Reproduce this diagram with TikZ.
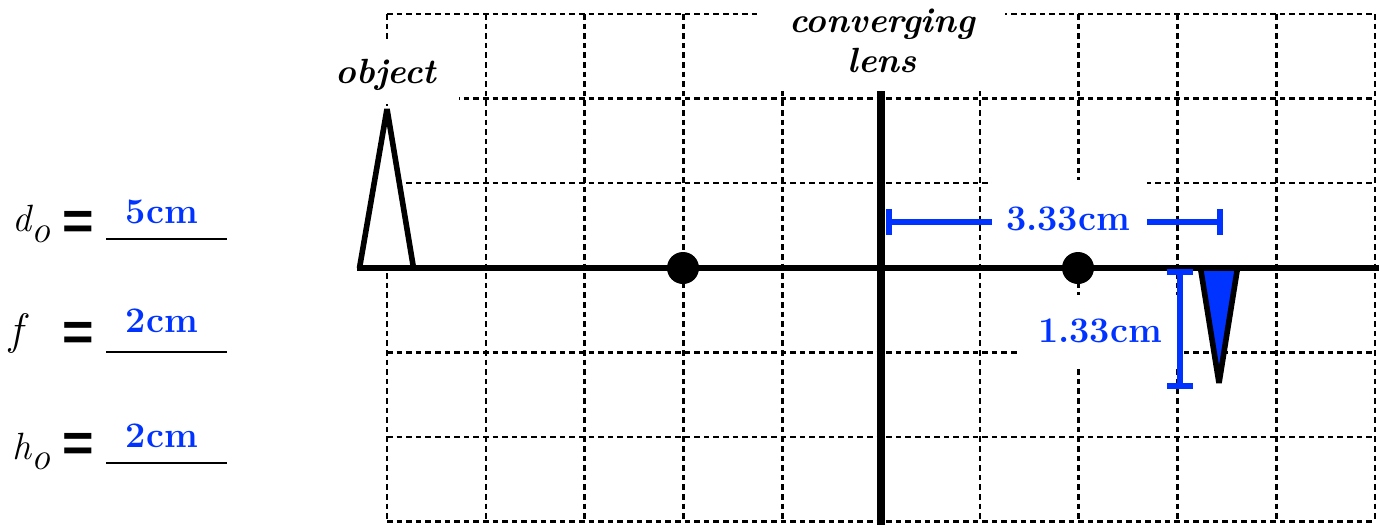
\documentclass[tikz,border=0pt]{standalone}
\usepackage{fontspec}
\newfontfamily\eqfont{Liberation Sans}
\definecolor{dimblue}{RGB}{0,51,255}
\begin{document}
\begin{tikzpicture}[x=0.5pt,y=-0.5pt,
  gridline/.style={line width=1.3pt,dash pattern=on 2.8pt off 2pt},
  mask/.style={fill=white},
  axisline/.style={line width=2.8pt},
  lensline/.style={line width=3.8pt},
  arrowtri/.style={line width=2.8pt,line join=bevel},
  dimline/.style={dimblue,line width=2.8pt},
  lbl/.style={font=\fontsize{17.5}{20}\selectfont\bfseries\itshape,inner sep=0pt,anchor=base},
  val/.style={text=dimblue,font=\fontsize{18}{20}\selectfont\bfseries,inner sep=0pt,anchor=base},
  givenvar/.style={font=\fontsize{19}{21}\selectfont\normalfont\itshape,inner sep=0pt,anchor=base west},
  eqsign/.style={font=\fontsize{27}{28}\selectfont\eqfont\bfseries,inner sep=0pt,anchor=base},
  uline/.style={line width=1.2pt}]
\useasboundingbox (0,0) rectangle (1379,525);
% grid
\foreach \i in {0,...,10} \draw[gridline] ({387+98.8*\i},14) -- ({387+98.8*\i},521.5);
\foreach \j in {0,...,6} \draw[gridline] (387,{14+84.58*\j}) -- (1375,{14+84.58*\j});
% horizontal dimension (image distance)
\draw[dimline] (889,222) -- (1220,222);
\draw[dimline] (889,209) -- (889,235);
\draw[dimline] (1220,209) -- (1220,235);
% white label backgrounds
\fill[mask] (330,40) rectangle (459,104);
\fill[mask] (758,0) rectangle (1005,90);
\fill[mask] (992,180) rectangle (1147,256);
\fill[mask] (1018,295) rectangle (1177,368);
% principal axis and lens
\draw[axisline] (357,268) -- (1379,268);
\draw[lensline] (881,91) -- (881,525);
% object and image
\draw[arrowtri,fill=white] (359.5,268) -- (387,109) -- (413.5,268) -- cycle;
\draw[arrowtri,fill=dimblue] (1200.5,268) -- (1219,383) -- (1237.5,268) -- cycle;
% focal points
\fill (683,268) circle[radius=8pt];
\fill (1078,268) circle[radius=8pt];
% vertical dimension (image height)
\draw[dimline] (1180,272) -- (1180,386);
\draw[dimline] (1167,272) -- (1193,272);
\draw[dimline] (1167,386) -- (1193,386);
% labels
\node[lbl] (objlbl) at (386,83) {object};
\node[lbl] (lensA) at (882,32) {converging};
\node[lbl] (lensB) at (882,72) {lens};
\node[val] (dimx) at (1068,230) {3.33cm};
\node[val] (dimy) at (1100,342) {1.33cm};
% given values
\node[givenvar] (do) at (12.5,231) {d\raisebox{-5.5pt}{o}};
\node[givenvar,font=\fontsize{22}{24}\selectfont\normalfont\itshape] (f) at (9,344) {f};
\node[givenvar] (ho) at (12.5,459) {h\raisebox{-5pt}{o}};
\node[eqsign] (eq1) at (78.5,239.5) {=};
\node[eqsign] (eq2) at (78.5,350) {=};
\node[eqsign] (eq3) at (78.5,461) {=};
\node[val] (v1) at (162,223) {5cm};
\node[val] (v2) at (162,332) {2cm};
\node[val] (v3) at (162,447) {2cm};
\draw[uline] (106,239) -- (227,239);
\draw[uline] (106,352) -- (227,352);
\draw[uline] (106,463) -- (227,463);
\end{tikzpicture}
\end{document}
